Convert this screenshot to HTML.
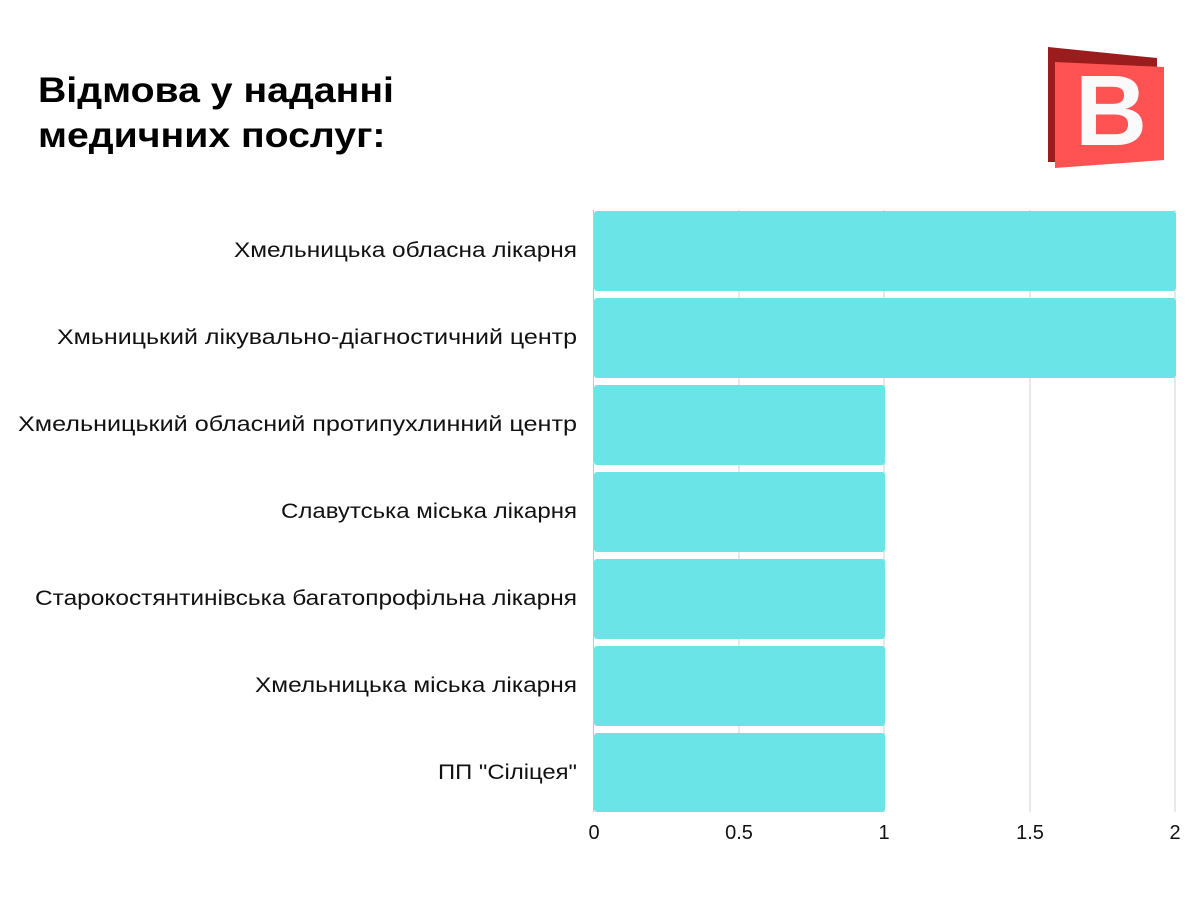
<!DOCTYPE html>
<html><head><meta charset="utf-8"><style>
body{margin:0;width:1200px;height:900px;background:#fff;position:relative;overflow:hidden;font-family:"Liberation Sans","DejaVu Sans",sans-serif}
</style></head><body>
<div style="position:absolute;left:38px;top:68px;font-size:35px;font-weight:bold;line-height:45px;color:#000;transform:scaleX(1.12);transform-origin:0 0;white-space:nowrap">Відмова у наданні<br>медичних послуг:</div>
<svg width="1200" height="900" style="position:absolute;left:0;top:0">
<polygon points="1048,47 1157,58 1157,72 1058,162 1048,162" fill="#9b1c1c"/>
<polygon points="1055,62 1164,67 1164,160 1055,168" fill="#ff5252"/>
<text x="1111" y="145" font-family="Liberation Sans" font-weight="bold" font-size="100" fill="#fafafa" text-anchor="middle">B</text>
<g stroke="#d0d0d0" stroke-width="1">
<line x1="739" y1="210" x2="739" y2="812"/><line x1="884" y1="210" x2="884" y2="812"/><line x1="1030" y1="210" x2="1030" y2="812"/><line x1="1175" y1="210" x2="1175" y2="812"/>
<line x1="593.5" y1="210" x2="593.5" y2="812" stroke="#c8c8c8"/>
</g>
<g fill="#6be4e8">
<rect x="594" y="211" width="582" height="80" rx="3"/>
<rect x="594" y="298" width="582" height="80" rx="3"/>
<rect x="594" y="385" width="291" height="80" rx="3"/>
<rect x="594" y="472" width="291" height="80" rx="3"/>
<rect x="594" y="559" width="291" height="80" rx="3"/>
<rect x="594" y="646" width="291" height="80" rx="3"/>
<rect x="594" y="733" width="291" height="79" rx="3"/>
</g>
<g font-size="21" fill="#111" text-anchor="end">
<text x="577" y="257" textLength="343" lengthAdjust="spacingAndGlyphs">Хмельницька обласна лікарня</text>
<text x="577" y="344" textLength="520" lengthAdjust="spacingAndGlyphs">Хмьницький лікувально-діагностичний центр</text>
<text x="577" y="431" textLength="559" lengthAdjust="spacingAndGlyphs">Хмельницький обласний протипухлинний центр</text>
<text x="577" y="518" textLength="296" lengthAdjust="spacingAndGlyphs">Славутська міська лікарня</text>
<text x="577" y="605" textLength="542" lengthAdjust="spacingAndGlyphs">Старокостянтинівська багатопрофільна лікарня</text>
<text x="577" y="692" textLength="322" lengthAdjust="spacingAndGlyphs">Хмельницька міська лікарня</text>
<text x="577" y="779" textLength="139" lengthAdjust="spacingAndGlyphs">ПП "Сіліцея"</text>
</g>
<g font-size="20" fill="#111" text-anchor="middle">
<text x="594" y="839">0</text><text x="739" y="839">0.5</text><text x="884" y="839">1</text><text x="1030" y="839">1.5</text><text x="1175" y="839">2</text>
</g>
</svg>
</body></html>
